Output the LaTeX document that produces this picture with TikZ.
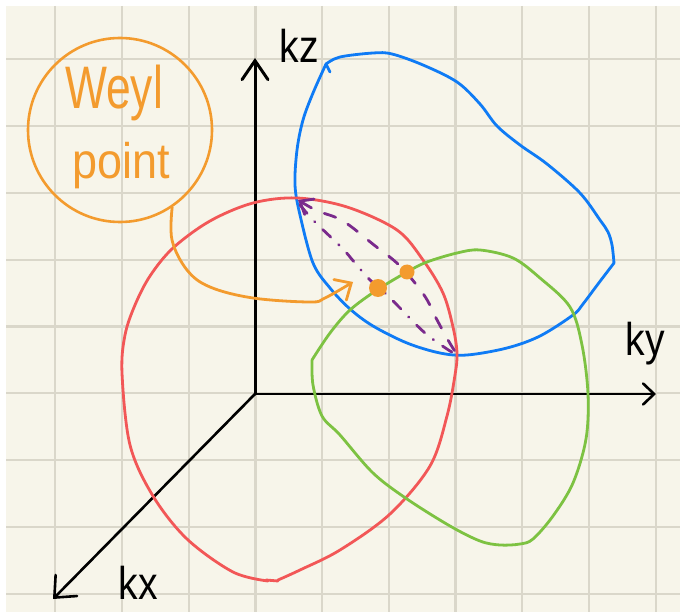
\documentclass[tikz,border=0pt]{standalone}
\usepackage{fontspec}
\usepackage{graphicx}
\setmainfont{Liberation Sans}
\usetikzlibrary{arrows.meta}
\definecolor{paper}{HTML}{F7F5EA}
\definecolor{gridc}{HTML}{DAD7CA}
\definecolor{worange}{HTML}{F39B2E}
\definecolor{wblue}{HTML}{0F7BF5}
\definecolor{wred}{HTML}{F25757}
\definecolor{wgreen}{HTML}{7DC242}
\definecolor{wpurple}{HTML}{7A2A8C}
\tikzset{
  gridline/.style={draw=gridc, line width=2.2pt},
  axis/.style={draw=black, line width=3pt, line cap=round},
  curve/.style={line width=2.8pt, line cap=round, line join=round},
  purpdash/.style={curve, draw=wpurple, dash pattern=on 12pt off 14pt},
  purpdashdot/.style={curve, draw=wpurple, dash pattern=on 11pt off 11pt on 0.5pt off 11pt},
  axlabel/.style={inner sep=0pt, font=\fontsize{46}{46}\selectfont},
  bubbletext/.style={inner sep=0pt, text=worange},
  wdot/.style={circle, fill=worange, inner sep=0pt},
}
\begin{document}
\begin{tikzpicture}[x=1pt,y=-1pt]
\useasboundingbox (0,0) rectangle (680,612);
\fill[white] (0,0) rectangle (680,612);
\fill[paper] (6,6) rectangle (680,612);
\foreach \i in {0,...,9} \draw[gridline] ({55.3+66.7*\i},6) -- ({55.3+66.7*\i},612);
\foreach \i in {0,...,8} \draw[gridline] (6,{59.3+66.8*\i}) -- (680,{59.3+66.8*\i});

% axes
\coordinate (O) at (255,394);
\coordinate (zend) at (255,58);
\coordinate (yend) at (656,394);
\coordinate (xend) at (53,599);
\draw[axis, -{Straight Barb[length=19pt,width=26pt,line cap=round]}] (O) -- (zend);
\draw[axis, line width=2.6pt, -{Straight Barb[length=11pt,width=21pt,line cap=round]}] (O) -- (yend);
\draw[axis, line width=2.6pt, -{Straight Barb[length=17pt,width=30pt,line cap=round]}] (O) -- (xend);
\node[axlabel] (kz) at (299,46) {\scalebox{0.85}[1]{kz}};
\node[axlabel] (ky) at (645,344) {\scalebox{0.85}[1]{ky}};
\node[axlabel] (kx) at (138,583) {\scalebox{0.85}[1]{kx}};

% blue loop
\draw[curve, draw=wblue] plot[smooth, tension=0.55] coordinates {(326,64) (340,57) (373,53) (392,54) (423,65) (457,82) (480,104) (497,126) (520,145) (547,164) (580,193) (600,220) (608,232) (612,245) (614,263)};
\draw[curve, draw=wblue] plot[smooth, tension=0.55] coordinates {(614,263) (598,284) (583,304) (573,315) (540,336) (507,348) (467,355) (440,353) (407,343) (373,326) (350,309) (330,288) (313,263) (300,215) (295,185) (297,150) (303,120) (313,93) (326,64)};
\draw[curve, draw=wblue] (326,64) -- (330,72);

% red loop
\draw[curve, draw=wred] plot[smooth, tension=0.55] coordinates {(268,581) (233,572) (187,539) (153,496) (130,445) (122,373) (125,335) (135,305) (150,276) (173,248) (210,221) (253,203) (297,198) (347,207) (397,230) (423,260) (443,293) (453,327) (457,353) (455,375) (447,416) (430,466) (390,514) (340,550) (300,570) (278,580)};
\draw[curve, draw=wred] (266,580) -- (278,581);

% green loop
\draw[curve, draw=wgreen] plot[smooth, tension=0.55] coordinates {(312,360) (330,333) (350,310) (377,290) (407,272) (427,262) (457,253) (480,250) (513,258) (540,278) (570,307) (582,345) (588,394) (586,439) (573,483) (553,516) (533,539) (520,544) (500,545) (480,541) (450,526) (407,499) (373,473) (340,435) (322,416) (313,385) (312,360)};

% purple dashed curves
\draw[purpdash, {Straight Barb[length=11pt,width=18pt,line cap=round]}-] plot[smooth, tension=0.6] coordinates {(298,200) (318,211) (343,221) (374,245) (400,266) (424,295) (436,318) (448,340) (456,353)};
\draw[purpdashdot] plot[smooth, tension=0.6] coordinates {(300,205) (315,222) (342,248) (355,263) (370,280) (385,293) (400,308) (425,333) (450,351) (456,353)};

% Weyl point bubble
\node[circle, draw=worange, line width=2.6pt, minimum size=184pt, inner sep=0pt] (weyl) at (120,130) {};
\node[bubbletext, font=\fontsize{60}{60}\selectfont] (wtext1) at (114,93) {\scalebox{0.74}[1]{Weyl}};
\node[bubbletext, font=\fontsize{50}{50}\selectfont] (wtext2) at (121,166) {\scalebox{0.9}[1]{point}};

% Weyl points
\node[wdot, minimum size=18pt] (wp1) at (378,288) {};
\node[wdot, minimum size=15pt] (wp2) at (407,272) {};
\coordinate (ptip) at (353,282);
\draw[curve, draw=worange, -{Straight Barb[length=13pt,width=24pt,line cap=round]}] plot[smooth, tension=0.6] coordinates {(weyl.-56) (172,240) (187,270) (210,287) (253,298) (310,302) (325,298) (ptip)};
\end{tikzpicture}
\end{document}
